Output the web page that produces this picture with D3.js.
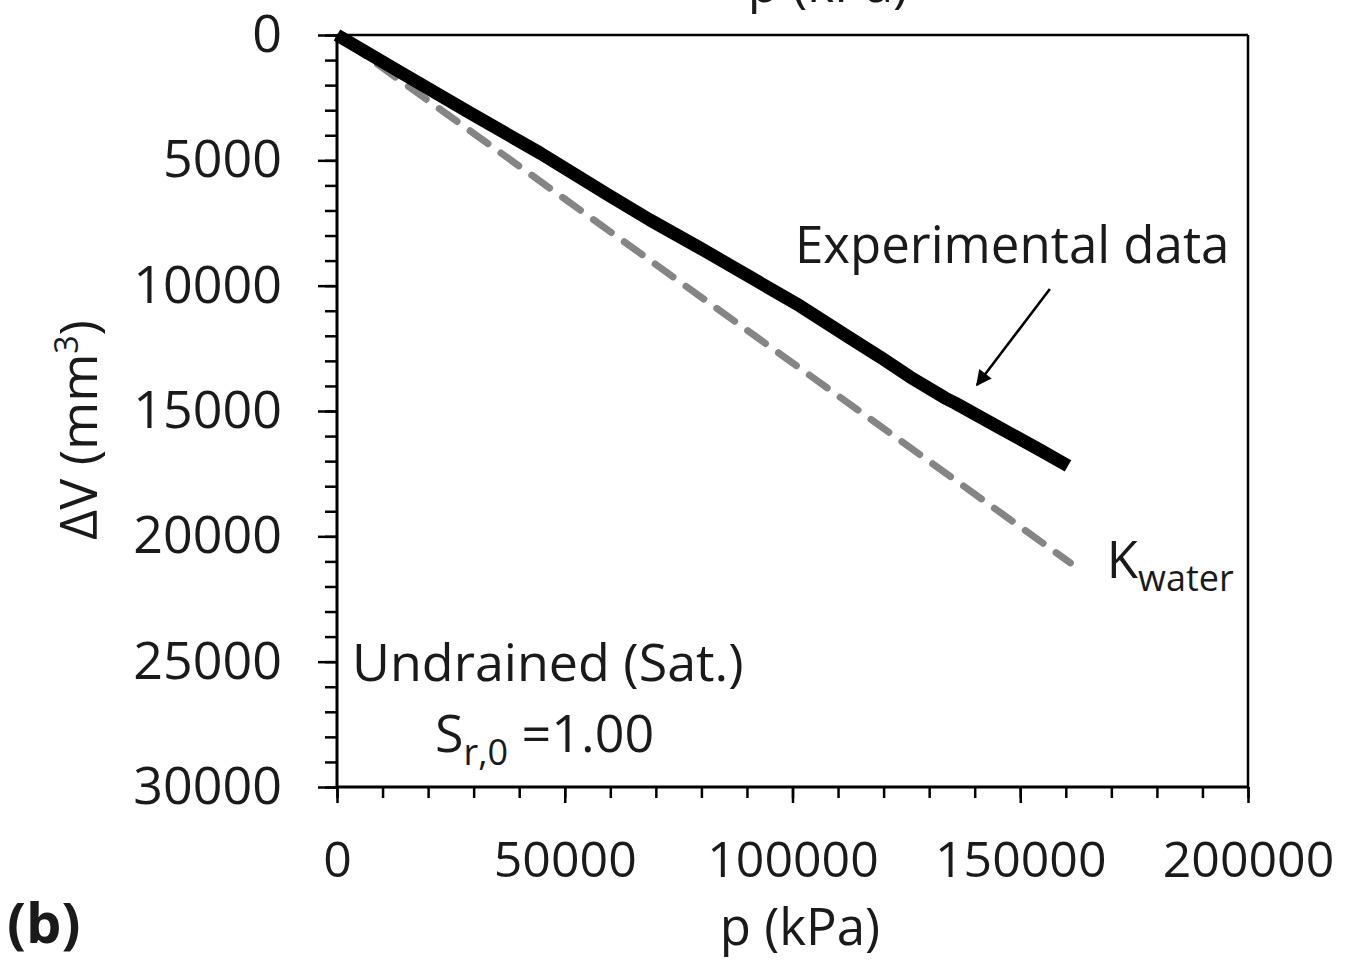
<!DOCTYPE html>
<html>
<head>
<meta charset="utf-8">
<script src="https://cdn.jsdelivr.net/npm/d3@7"></script>
<style>
  html, body { margin: 0; padding: 0; background: #fff; }
  svg { display: block; }
  text { font-family: "Open Sans", "Noto Sans", sans-serif; fill: #1a1a1a; }
</style>
</head>
<body>
<svg id="chart" width="1349" height="961"></svg>
<script>
// Experimental volume change under undrained compression
const pExp  = [0, 13830, 29200, 44570, 59930, 68720, 79690, 90670, 101650, 112620, 119210, 125800, 133480, 135680, 145560, 154340, 160480];
const dvExp = [0, 1476, 3111, 4707, 6422, 7379, 8496, 9653, 10810, 12086, 12844, 13642, 14479, 14679, 15676, 16554, 17192];

// Reference line from the bulk modulus of water
const pWater  = [0, 161000];
const dvWater = [0, 21060];

// Axis ticks
const xMajor = [0, 50000, 100000, 150000, 200000];
const xMinor = d3.range(0, 200001, 10000);
const yMajor = [0, 5000, 10000, 15000, 20000, 25000, 30000];
const yMinor = d3.range(0, 30001, 1000);

const svg = d3.select("#chart");
const x = d3.scaleLinear().domain([0, 200000]).range([337, 1248]);
const y = d3.scaleLinear().domain([0, 30000]).range([35, 787]);

const FS = 51;

// minor ticks
svg.append("g").attr("transform", `translate(${x(0)},0)`)
  .call(d3.axisLeft(y).tickValues(yMinor).tickSize(12).tickSizeOuter(0).tickFormat(""))
  .call(g => g.select(".domain").remove())
  .call(g => g.selectAll("line").attr("stroke", "#000").attr("stroke-width", 2.5));
svg.append("g").attr("transform", `translate(0,${y(30000)})`)
  .call(d3.axisBottom(x).tickValues(xMinor).tickSize(11).tickSizeOuter(0).tickFormat(""))
  .call(g => g.select(".domain").remove())
  .call(g => g.selectAll("line").attr("stroke", "#000").attr("stroke-width", 2.5));

// major ticks with labels
svg.append("g").attr("transform", `translate(${x(0)},0)`)
  .call(d3.axisLeft(y).tickValues(yMajor).tickSize(19).tickSizeOuter(0).tickPadding(36).tickFormat(d3.format("d")))
  .call(g => g.select(".domain").remove())
  .call(g => g.selectAll("line").attr("stroke", "#000").attr("stroke-width", 2.5))
  .call(g => g.selectAll("text").attr("font-size", 52).attr("fill", "#1a1a1a")
    .style("font-family", '"Open Sans", sans-serif'));
svg.append("g").attr("transform", `translate(0,${y(30000)})`)
  .call(d3.axisBottom(x).tickValues(xMajor).tickSize(16).tickSizeOuter(0).tickPadding(38).tickFormat(d3.format("d")))
  .call(g => g.select(".domain").remove())
  .call(g => g.selectAll("line").attr("stroke", "#000").attr("stroke-width", 2.5))
  .call(g => g.selectAll("text").attr("font-size", 50).attr("fill", "#1a1a1a")
    .style("font-family", '"Open Sans", sans-serif'));

// plot frame
const frame = svg.append("g").attr("fill", "none").attr("stroke", "#000");
frame.append("line").attr("x1", x(0)).attr("x2", x(0)).attr("y1", y(0)).attr("y2", y(30000)).attr("stroke-width", 3);
frame.append("line").attr("x1", x(0)).attr("x2", x(200000)).attr("y1", y(30000)).attr("y2", y(30000)).attr("stroke-width", 3);
frame.append("line").attr("x1", x(0)).attr("x2", x(200000)).attr("y1", y(0)).attr("y2", y(0)).attr("stroke-width", 2.5);
frame.append("line").attr("x1", x(200000)).attr("x2", x(200000)).attr("y1", y(0)).attr("y2", y(30000)).attr("stroke-width", 2.5);

// K_water reference line
const waterPts = pWater.map((p, i) => [p, dvWater[i]]);
svg.append("path")
  .datum(waterPts)
  .attr("fill", "none")
  .attr("stroke", "#858585")
  .attr("stroke-width", 7)
  .attr("stroke-dasharray", "22 16")
  .attr("stroke-dashoffset", -12)
  .attr("stroke-linecap", "round")
  .attr("d", d3.line().x(d => x(d[0])).y(d => y(d[1])));

// experimental curve
const expPts = pExp.map((p, i) => [p, dvExp[i]]);
svg.append("path")
  .datum(expPts)
  .attr("fill", "none")
  .attr("stroke", "#000")
  .attr("stroke-width", 13)
  .attr("stroke-linejoin", "round")
  .attr("d", d3.line().x(d => x(d[0])).y(d => y(d[1])));

// arrow pointing to the experimental curve
svg.append("defs").append("marker")
  .attr("id", "head")
  .attr("viewBox", "0 0 10 10")
  .attr("refX", 9).attr("refY", 5)
  .attr("markerWidth", 7).attr("markerHeight", 6)
  .attr("markerUnits", "strokeWidth")
  .attr("orient", "auto")
  .append("path").attr("d", "M0,0 L10,5 L0,10 Z").attr("fill", "#000");
svg.append("line")
  .attr("x1", x(156500)).attr("y1", y(10130))
  .attr("x2", x(140500)).attr("y2", y(13960))
  .attr("stroke", "#000").attr("stroke-width", 2.6)
  .attr("marker-end", "url(#head)");

// annotations
svg.append("text").attr("x", x(100550)).attr("y", y(9095))
  .attr("font-size", FS).text("Experimental data");

const kw = svg.append("text").attr("x", x(169000)).attr("y", y(21660)).attr("font-size", FS);
kw.append("tspan").text("K");
kw.append("tspan").attr("font-size", 36).attr("dy", 13).text("water");

svg.append("text").attr("x", x(3300)).attr("y", y(25770))
  .attr("font-size", 52).text("Undrained (Sat.)");

const sr = svg.append("text").attr("x", x(21500)).attr("y", y(28600)).attr("font-size", 52);
sr.append("tspan").text("S");
sr.append("tspan").attr("font-size", 36).attr("dy", 13).text("r,0");
sr.append("tspan").attr("dy", -13).text(" =1.00");

// axis titles
svg.append("text").attr("x", 800).attr("y", 945).attr("text-anchor", "middle")
  .attr("font-size", FS).text("p (kPa)");
svg.append("text").attr("x", 828).attr("y", 2).attr("text-anchor", "middle")
  .attr("font-size", FS).text("p (kPa)");

const yt = svg.append("text")
  .attr("transform", "translate(97,430) rotate(-90)")
  .attr("text-anchor", "middle")
  .attr("font-size", 52);
yt.append("tspan").text("ΔV (mm");
yt.append("tspan").attr("font-size", 32).attr("dy", -19).text("3");
yt.append("tspan").attr("dy", 19).text(")");

// panel label
svg.append("text").attr("x", 7).attr("y", 943)
  .attr("font-size", 56).attr("font-weight", "bold").text("(b)");
</script>
</body>
</html>
